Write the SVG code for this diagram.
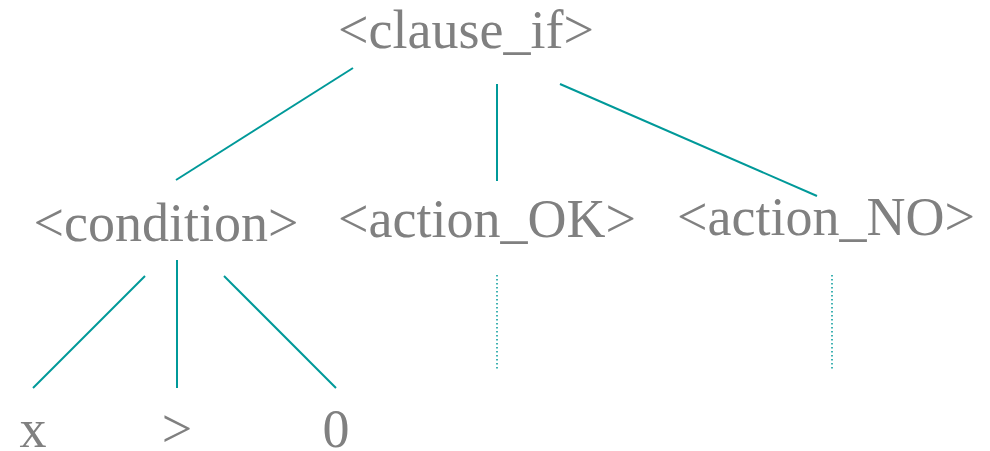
<svg xmlns="http://www.w3.org/2000/svg" width="990" height="451" viewBox="0 0 990 451">
<style>
text{font-family:"Liberation Serif","Times New Roman",serif;font-size:54px;fill:#808080;text-anchor:middle}
.e{stroke:#009999;stroke-width:2;fill:none}
.d{stroke:#009999;stroke-width:1.5;stroke-dasharray:1.5 2.5;fill:none}
</style>
<rect width="990" height="451" fill="#fff"/>
<g id="connectors">
<line class="e" x1="353" y1="68" x2="176" y2="180"/>
<line class="e" x1="497" y1="84" x2="497" y2="181"/>
<line class="e" x1="560" y1="84" x2="817" y2="196"/>
<line class="e" x1="145" y1="276" x2="33" y2="388"/>
<line class="e" x1="177" y1="260" x2="177" y2="388"/>
<line class="e" x1="224" y1="276" x2="336" y2="388"/>
<line class="d" x1="497" y1="275" x2="497" y2="369"/>
<line class="d" x1="832" y1="275" x2="832" y2="369"/>
</g>
<g id="clause_if"><text x="466" y="48">&lt;clause_if&gt;</text></g>
<g id="condition"><text x="166" y="241">&lt;condition&gt;</text></g>
<g id="action_OK"><text x="487" y="237">&lt;action_OK&gt;</text></g>
<g id="action_NO"><text x="826" y="235">&lt;action_NO&gt;</text></g>
<g id="x"><text x="33" y="447">x</text></g>
<g id="gt"><text x="177" y="447">&gt;</text></g>
<g id="zero"><text x="336" y="447">0</text></g>
</svg>
